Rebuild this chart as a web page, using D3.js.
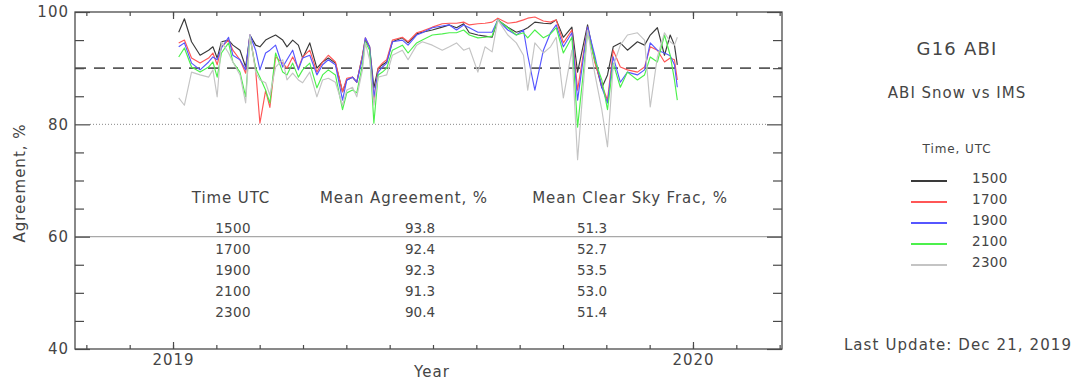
<!DOCTYPE html>
<html>
<head>
<meta charset="utf-8">
<script src="https://cdn.jsdelivr.net/npm/d3@7"></script>
<style>
  body { margin: 0; background: #fff; }
  text { font-family: "DejaVu Sans", sans-serif; fill: #454545; }
</style>
</head>
<body>
<svg id="chart" width="1077" height="383"></svg>
<script>
// day of year 2019 (0 = Jan 1) for each sample
const days = [4,8,13,19,25,28,31,34,39,42, 47,51,54,58,61,65,68,72,77,80,
  84,88,91,96,101,105,109,114,119,122, 126,129,133,135,138,141,144,147,150,154,
  161,165,171,175,182,189,194,199,204,208, 214,219,224,228,235,241,246,249,254,260,
  265,269,274,280,284,291,296,301,305,309, 314,319,326,331,335,340,345,349,352,354];

const agree1500 = [96.4,98.8,94.7,92.3,93.2,93.8,91.8,94.7,95.0,94.1, 93.2,90.2,95.9,94.1,93.8,95.0,95.4,95.9,95.0,93.8,
  95.0,94.1,91.8,94.5,90.0,91.1,91.8,90.9,85.8,87.9, 88.4,87.5,92.3,95.0,93.8,86.5,90.0,90.6,91.1,94.7,
  95.4,94.5,96.1,96.4,96.8,97.3,97.7,97.2,97.9,96.3, 95.9,95.7,95.5,98.6,97.3,96.4,96.8,97.2,98.2,98.0,
  97.9,98.6,95.5,97.3,89.3,97.7,91.5,86.5,88.8,93.8, 94.5,93.2,94.7,94.1,95.9,97.2,92.3,95.9,94.1,90.6];

const agree1700 = [94.5,95.0,91.8,90.9,91.8,92.7,90.6,93.8,95.0,93.2, 91.5,89.1,95.9,89.7,80.2,86.0,83.0,92.0,90.9,90.0,
  92.0,90.0,92.0,93.2,89.3,91.1,92.3,91.1,85.8,88.2, 88.4,87.5,92.3,95.4,93.8,84.3,90.0,90.9,91.5,95.0,
  95.5,94.7,96.3,96.6,97.3,97.9,98.0,98.0,98.2,97.7, 97.9,98.0,98.2,98.9,98.0,98.2,98.6,98.9,99.1,98.4,
  98.2,98.6,94.5,96.8,86.1,97.3,91.1,87.0,84.3,93.2, 90.2,89.7,89.3,90.2,93.8,93.2,91.1,91.8,91.5,87.9];

const agree1900 = [93.8,94.5,90.9,89.7,91.1,92.0,91.5,93.6,95.5,92.3, 91.5,89.7,95.9,93.2,89.7,92.7,93.2,94.1,90.2,91.5,
  93.2,89.7,91.8,92.3,88.8,90.6,91.5,90.6,84.3,87.9, 88.4,87.5,91.8,95.4,93.8,84.9,89.3,90.2,90.9,94.7,
  95.0,94.1,95.9,96.3,97.2,97.5,97.7,96.8,97.7,97.2, 96.4,96.4,96.4,98.6,96.8,95.9,96.8,92.3,86.1,93.2,
  96.3,97.7,93.8,96.3,84.3,97.3,92.3,86.6,83.8,92.0, 87.5,89.3,88.8,89.7,94.5,93.2,92.7,92.2,90.6,86.6];

const agree2100 = [92.0,93.6,90.2,89.3,90.2,91.1,88.4,92.7,94.5,91.1, 89.3,84.9,95.5,90.0,88.4,86.1,83.8,92.7,89.3,88.8,
  90.9,88.4,89.7,90.9,86.5,88.8,89.7,88.8,82.6,85.6, 86.1,85.6,90.6,94.7,93.2,80.2,88.8,89.3,90.0,93.2,
  94.1,92.7,94.5,95.0,95.9,96.1,96.3,96.3,96.8,95.9, 95.4,95.5,95.7,98.6,97.2,95.9,96.3,95.4,96.8,95.4,
  96.1,97.2,92.7,95.5,79.5,96.4,91.5,87.9,82.6,90.9, 86.6,89.3,87.9,88.8,92.0,91.1,95.9,92.3,87.9,84.3];

const agree2300 = [84.7,83.4,89.3,88.8,88.4,89.7,84.9,94.7,92.7,91.1, 88.8,83.8,95.9,89.3,87.9,87.4,85.2,90.2,91.5,87.9,
  89.1,87.9,87.4,89.3,84.9,87.9,88.2,87.5,83.4,86.1, 86.6,84.9,89.7,94.5,91.5,83.4,88.4,88.6,88.8,92.3,
  93.2,91.5,94.1,94.7,94.1,93.2,93.8,94.5,93.2,93.6, 89.3,93.8,92.9,98.6,95.9,94.5,92.3,86.1,94.5,92.7,
  93.8,95.5,84.7,93.2,73.7,96.8,89.1,82.6,76.0,90.4, 94.1,95.9,96.3,95.0,83.1,92.0,96.3,94.7,94.1,95.5];

const timeLabels = ['1500', '1700', '1900', '2100', '2300'];
const meanAgreement = [93.8, 92.4, 92.3, 91.3, 90.4];
const meanClearSky = [51.3, 52.7, 53.5, 53.0, 51.4];
const seriesColours = ['#3a3a3a', '#ff5656', '#5656ff', '#4cf04c', '#c4c4c4'];
const yearTicks = [2019, 2020];

const allSeries = [agree1500, agree1700, agree1900, agree2100, agree2300];

const svg = d3.select('#chart');
svg.append('rect').attr('width', 1077).attr('height', 383).attr('fill', '#fff');

const plotLeft = 75, plotRight = 782, plotTop = 12, plotBottom = 349;

// axis runs in decimal years
const x = d3.scaleLinear().domain([2018.8115, 2020.1712]).range([plotLeft, plotRight]);
const y = d3.scaleLinear().domain([40, 100]).range([plotBottom, plotTop]);
const toYear = d => 2019 + d / 365;

const monthTicks = d3.range(0, 17).map(i => 2018 + 10 / 12 + i / 12)
	.filter(v => v > x.domain()[0] && v < x.domain()[1]);

const g = svg.append('g');

// reference lines
g.append('line')
	.attr('x1', plotLeft).attr('x2', plotRight)
	.attr('y1', y(60)).attr('y2', y(60))
	.attr('stroke', '#a8a8a8').attr('stroke-width', 1.2);
g.append('line')
	.attr('x1', plotLeft + 15).attr('x2', plotRight - 15)
	.attr('y1', y(80)).attr('y2', y(80))
	.attr('stroke', '#888').attr('stroke-width', 1)
	.attr('stroke-dasharray', '1,2');
g.append('line')
	.attr('x1', plotLeft).attr('x2', plotRight)
	.attr('y1', y(90)).attr('y2', y(90))
	.attr('stroke', '#5a5a5a').attr('stroke-width', 1.6)
	.attr('stroke-dasharray', '11,8');

// series
const line = d3.line()
	.x((d, i) => x(toYear(days[i])))
	.y(d => y(d));

allSeries.forEach((values, k) => {
	g.append('path')
		.datum(values)
		.attr('fill', 'none')
		.attr('stroke', seriesColours[k])
		.attr('stroke-width', 1.15)
		.attr('stroke-linejoin', 'round')
		.attr('d', line);
});

// frame
g.append('rect')
	.attr('x', plotLeft).attr('y', plotTop)
	.attr('width', plotRight - plotLeft).attr('height', plotBottom - plotTop)
	.attr('fill', 'none').attr('stroke', '#4a4a4a').attr('stroke-width', 1.3);

function styleAxis(sel) {
	sel.select('.domain').remove();
	sel.selectAll('line').attr('stroke', '#4a4a4a').attr('stroke-width', 1.2);
	sel.selectAll('text')
		.attr('font-family', '"DejaVu Sans", sans-serif')
		.attr('font-size', 15)
		.attr('letter-spacing', 1)
		.attr('fill', '#454545');
}

const minorY = d3.range(45, 100, 5).filter(v => v % 20 !== 0);

g.append('g').attr('transform', `translate(${plotLeft},0)`)
	.call(d3.axisLeft(y).tickValues([40, 60, 80, 100]).tickSize(-15).tickPadding(6).tickFormat(d3.format('d')))
	.call(styleAxis);
g.append('g').attr('transform', `translate(${plotLeft},0)`)
	.call(d3.axisLeft(y).tickValues(minorY).tickSize(-9).tickFormat(''))
	.call(styleAxis);
g.append('g').attr('transform', `translate(${plotRight},0)`)
	.call(d3.axisRight(y).tickValues([40, 60, 80, 100]).tickSize(-15).tickFormat(''))
	.call(styleAxis);
g.append('g').attr('transform', `translate(${plotRight},0)`)
	.call(d3.axisRight(y).tickValues(minorY).tickSize(-9).tickFormat(''))
	.call(styleAxis);

g.append('g').attr('transform', `translate(0,${plotBottom})`)
	.call(d3.axisBottom(x).tickValues(yearTicks).tickSize(-7).tickPadding(5).tickFormat(d3.format('d')))
	.call(styleAxis);
g.append('g').attr('transform', `translate(0,${plotBottom})`)
	.call(d3.axisBottom(x).tickValues(monthTicks).tickSize(-4).tickFormat(''))
	.call(styleAxis);
g.append('g').attr('transform', `translate(0,${plotTop})`)
	.call(d3.axisTop(x).tickValues(yearTicks).tickSize(-7).tickFormat(''))
	.call(styleAxis);
g.append('g').attr('transform', `translate(0,${plotTop})`)
	.call(d3.axisTop(x).tickValues(monthTicks).tickSize(-4).tickFormat(''))
	.call(styleAxis);

// axis titles
svg.append('text')
	.attr('transform', 'translate(25,183) rotate(-90)')
	.attr('text-anchor', 'middle')
	.attr('font-size', 15).attr('letter-spacing', 1)
	.text('Agreement, %');
svg.append('text')
	.attr('x', 432).attr('y', 377)
	.attr('text-anchor', 'middle')
	.attr('font-size', 15).attr('letter-spacing', 1)
	.text('Year');

// stats table
const table = svg.append('g');
[['Time UTC', 231], ['Mean Agreement, %', 404], ['Mean Clear Sky Frac, %', 630]].forEach(([label, cx]) => {
	table.append('text')
		.attr('x', cx).attr('y', 203)
		.attr('text-anchor', 'middle')
		.attr('font-size', 15).attr('letter-spacing', 0.9)
		.text(label);
});
timeLabels.forEach((t, i) => {
	const ty = 233 + i * 21;
	table.append('text').attr('x', 233).attr('y', ty).attr('text-anchor', 'middle')
		.attr('font-size', 13.5).attr('letter-spacing', 0.3).text(t);
	table.append('text').attr('x', 420).attr('y', ty).attr('text-anchor', 'middle')
		.attr('font-size', 13.5).text(meanAgreement[i].toFixed(1));
	table.append('text').attr('x', 592).attr('y', ty).attr('text-anchor', 'middle')
		.attr('font-size', 13.5).text(meanClearSky[i].toFixed(1));
});

// right panel
const panel = svg.append('g');
panel.append('text').attr('x', 957).attr('y', 55).attr('text-anchor', 'middle')
	.attr('font-size', 18).attr('letter-spacing', 1.2).text('G16 ABI');
panel.append('text').attr('x', 957).attr('y', 98).attr('text-anchor', 'middle')
	.attr('font-size', 15).attr('letter-spacing', 1).text('ABI Snow vs IMS');
panel.append('text').attr('x', 957).attr('y', 153).attr('text-anchor', 'middle')
	.attr('font-size', 12).attr('letter-spacing', 0.9).text('Time, UTC');

timeLabels.forEach((t, i) => {
	const ly = 181 + i * 21;
	panel.append('line')
		.attr('x1', 911).attr('x2', 947).attr('y1', ly).attr('y2', ly)
		.attr('stroke', seriesColours[i]).attr('stroke-width', 1.8);
	panel.append('text').attr('x', 972).attr('y', ly + 1.5)
		.attr('font-size', 13.5).attr('letter-spacing', 0.3).text(t);
});

panel.append('text').attr('x', 958).attr('y', 350).attr('text-anchor', 'middle')
	.attr('font-size', 15).attr('letter-spacing', 1.1).text('Last Update: Dec 21, 2019');
</script>
</body>
</html>
